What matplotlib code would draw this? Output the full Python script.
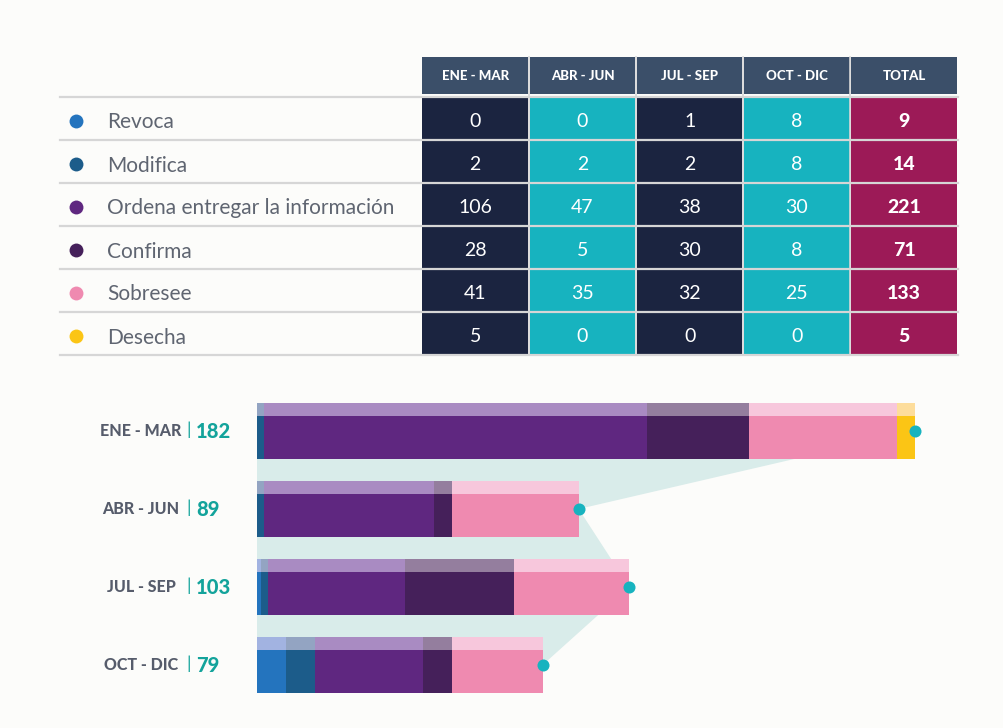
import numpy as np
import matplotlib
matplotlib.use("Agg")
import matplotlib.pyplot as plt
from matplotlib.patches import Rectangle

plt.rcParams['font.family'] = ['Lato', 'DejaVu Sans']

# ---- data ----
periods = ["ENE - MAR", "ABR - JUN", "JUL - SEP", "OCT - DIC"]
categories = ["Revoca", "Modifica", "Ordena entregar la información",
              "Confirma", "Sobresee", "Desecha"]
revoca = [0, 0, 1, 8]
modifica = [2, 2, 2, 8]
ordena = [106, 47, 38, 30]
confirma = [28, 5, 30, 8]
sobresee = [41, 35, 32, 25]
desecha = [5, 0, 0, 0]

series = [revoca, modifica, ordena, confirma, sobresee, desecha]
cat_colors = ['#2474BE', '#1C5C8A', '#5F2780', '#45205A', '#EF8AB0', '#FBC515']
stripe_colors = ['#A2B3E1', '#93A4C2', '#A98BC2', '#947E9E', '#F7C7DC', '#FDDD9B']

values = np.array(series)            # rows = category, cols = period
row_totals = values.sum(axis=1)
period_totals = values.sum(axis=0)

bg = '#FCFCFA'
navy = '#1B2440'
teal = '#17B3BF'
magenta = '#9C1A57'
header_c = '#3B4F69'
gray_txt = '#5F6571'
teal_txt = '#13A39B'

fig = plt.figure(figsize=(10.04, 7.28), dpi=100, facecolor=bg)

#------------------------------------------------------------------------
# table, drawn in pixel units of the figure
tab = fig.add_axes([0, 0, 1, 1])
tab.set_xlim(0, 1004)
tab.set_ylim(728, 0)
tab.axis('off')

col_x0, col_pitch, col_w = 422.5, 107.2, 105.5
head_top, head_h = 57, 37
row_top, row_pitch = 97, 43
col_heads = periods + ["TOTAL"]

for j, name in enumerate(col_heads):
    x = col_x0 + j * col_pitch
    tab.add_patch(Rectangle((x, head_top), col_w, head_h, color=header_c, lw=0))
    tab.text(x + col_w / 2, head_top + head_h / 2 + 1, name, color='white',
             fontsize=9.5, fontweight='black', ha='center', va='center')

for i, cat in enumerate(categories):
    y = row_top + i * row_pitch
    yc = y + row_pitch / 2
    tab.scatter([76], [yc + 2], s=100, color=cat_colors[i], lw=0, zorder=3)
    tab.text(107, yc + 4, cat, color=gray_txt, fontsize=15, ha='left', va='center')
    cells = list(values[i]) + [row_totals[i]]
    for j, v in enumerate(cells):
        x = col_x0 + j * col_pitch
        if j == 4:
            fc = magenta
        elif j % 2 == 0:
            fc = navy
        else:
            fc = teal
        tab.add_patch(Rectangle((x, y), col_w, row_pitch, color=fc, lw=0))
        tab.text(x + col_w / 2, yc + 3, str(v), color='white', fontsize=14,
                 fontweight='black' if j == 4 else 'normal',
                 ha='center', va='center', zorder=4)

for i in range(len(categories) + 1):
    y = row_top + i * row_pitch - 0.5
    tab.plot([60, 958], [y, y], color='#D6D6D6', lw=1.6, zorder=3)
for j in range(1, 5):
    x = col_x0 + j * col_pitch - 0.85
    tab.plot([x, x], [head_top, row_top + 6 * row_pitch], color='#D6D6D6',
             lw=1.2, zorder=3)

#------------------------------------------------------------------------
# stacked bars
px = 3.615  # pixels per unit
ax = fig.add_axes([257 / 1004, (728 - 704) / 728,
                   period_totals.max() * px / 1004, 312 / 728])
ax.set_facecolor('none')
ax.set_xlim(0, period_totals.max())
ax.set_ylim(3.5, -0.5)
ax.axis('off')

ypos = np.arange(len(periods))
ax.fill(np.r_[0, period_totals, 0], np.r_[0, ypos, ypos[-1]],
        color='#D9ECEA', lw=0, zorder=0)

stripe_h = 13 / 78
main_h = 43 / 78
top = -28 / 78
left = np.zeros(len(periods))
for k in range(len(series)):
    vals = values[k]
    ax.barh(ypos + top, vals, left=left, height=stripe_h, align='edge',
            color=stripe_colors[k], lw=0, zorder=2)
    ax.barh(ypos + top + stripe_h, vals, left=left, height=main_h, align='edge',
            color=cat_colors[k], lw=0, zorder=2)
    left += vals

ax.scatter(period_totals, ypos, s=75, color=teal, lw=0, zorder=5, clip_on=False)

for i, p in enumerate(periods):
    ax.annotate(p, xy=(0, i), xytext=(141 - 257, 0), textcoords='offset pixels',
                ha='center', va='center', fontsize=11.5, fontweight='black',
                color='#565C6B')
    ax.annotate('|', xy=(0, i), xytext=(189 - 257, 1), textcoords='offset pixels',
                ha='center', va='center', fontsize=13, color=teal_txt)
    ax.annotate(str(period_totals[i]), xy=(0, i), xytext=(196 - 257, 0),
                textcoords='offset pixels', ha='left', va='center',
                fontsize=14.5, fontweight='black', color=teal_txt)

fig.savefig('out.png', dpi=100, facecolor=bg)
